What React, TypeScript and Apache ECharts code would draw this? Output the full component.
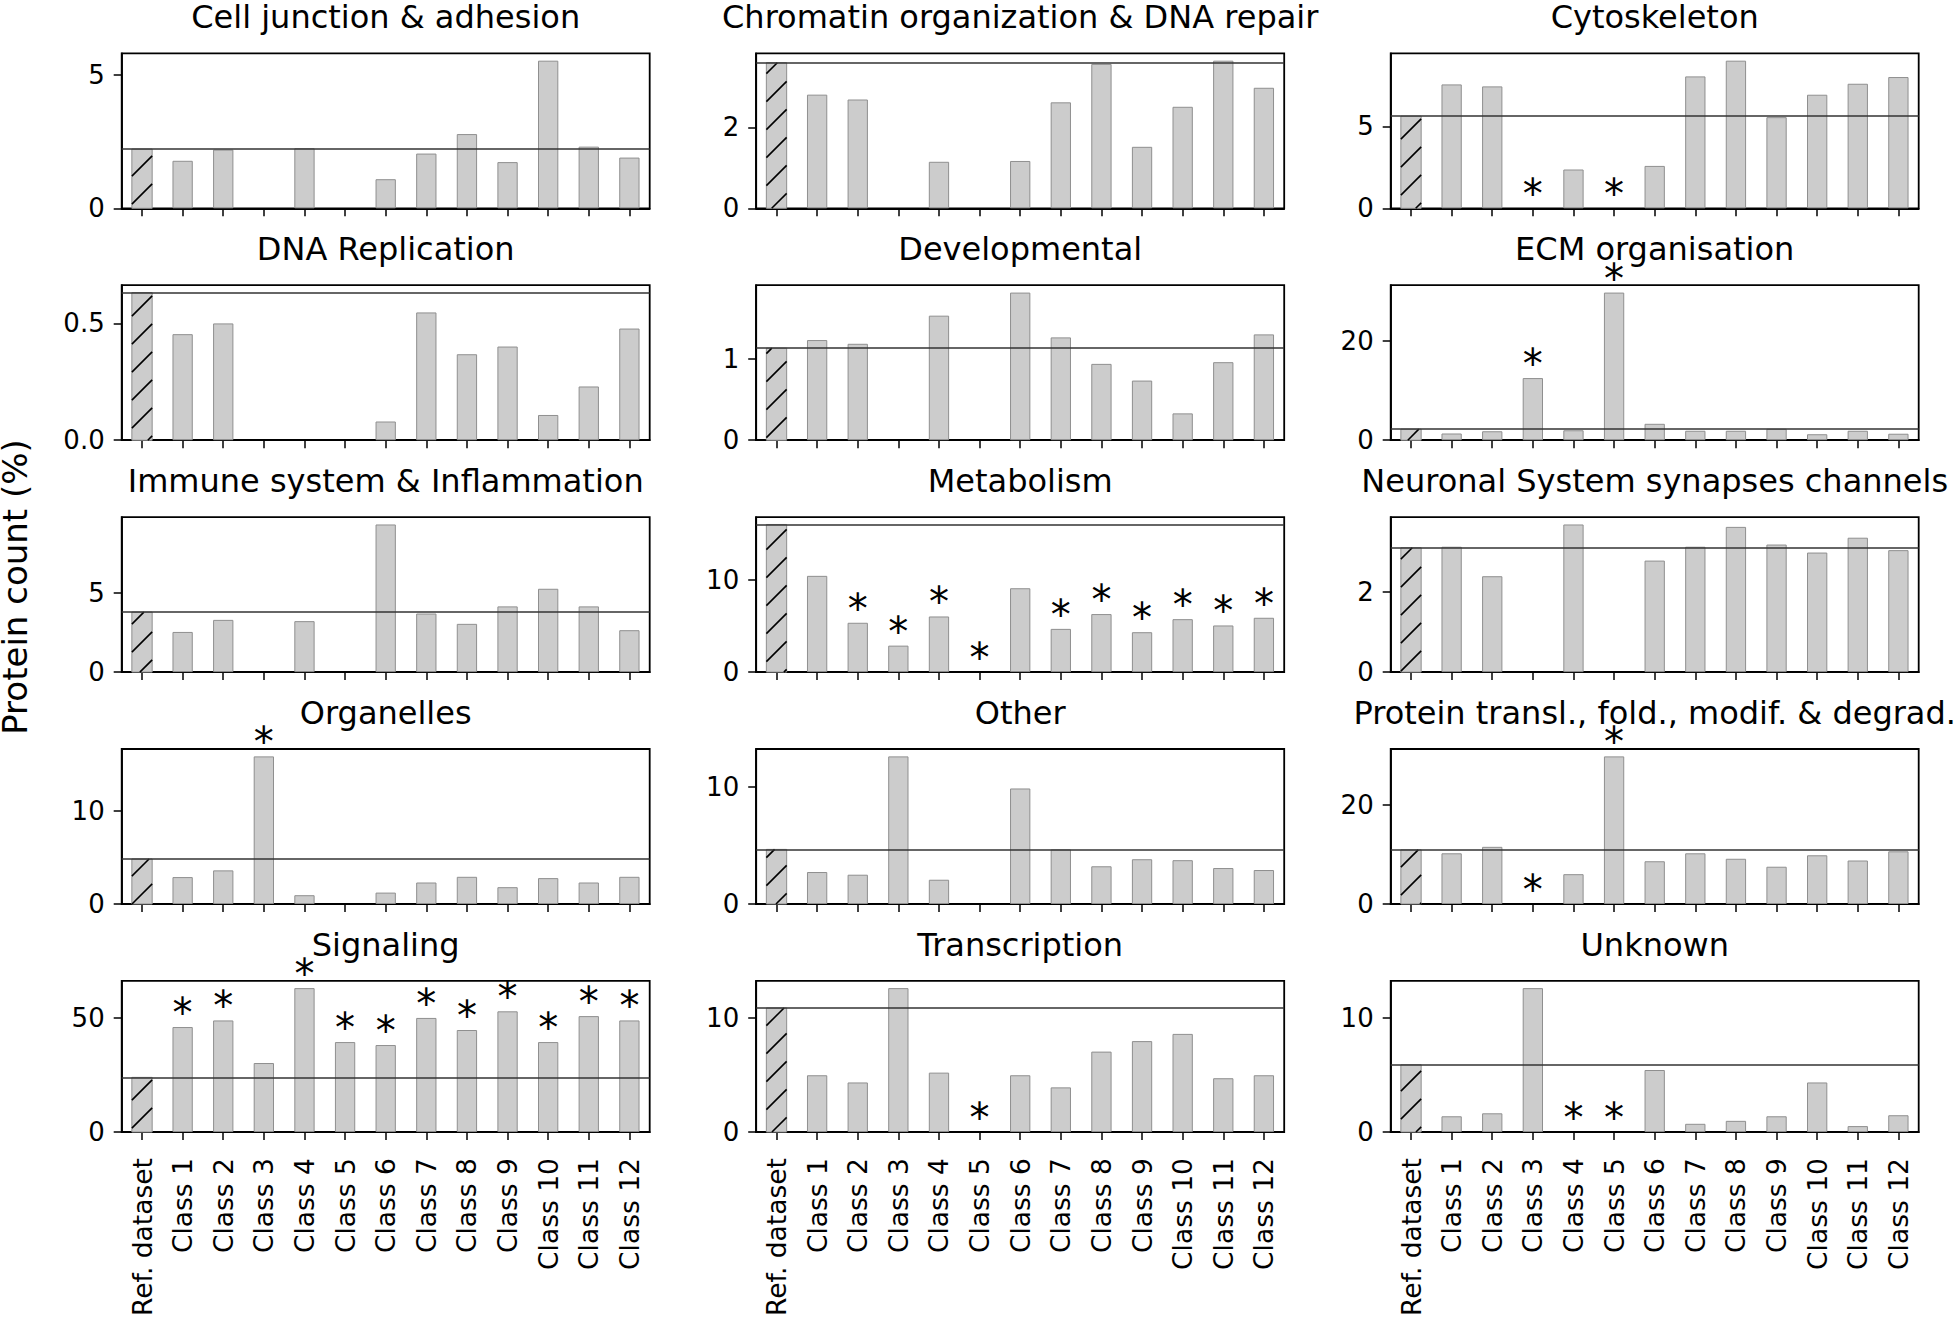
import React, { useEffect, useRef } from "react";
import * as echarts from "echarts";

const categories = ["Ref. dataset", "Class 1", "Class 2", "Class 3", "Class 4", "Class 5", "Class 6", "Class 7", "Class 8", "Class 9", "Class 10", "Class 11", "Class 12"];

const panelTitles = [
  "Cell junction & adhesion",
  "Chromatin organization & DNA repair",
  "Cytoskeleton",
  "DNA Replication",
  "Developmental",
  "ECM organisation",
  "Immune system & Inflammation",
  "Metabolism",
  "Neuronal System synapses channels",
  "Organelles",
  "Other",
  "Protein transl., fold., modif. & degrad.",
  "Signaling",
  "Transcription",
  "Unknown",
];

// Reference dataset value per panel (hatched bar + horizontal line)
const refValues = [2.22, 3.6, 5.63, 0.632, 1.136, 2.22, 3.78, 15.95, 3.1, 4.82, 4.66, 10.9, 24.0, 10.86, 5.89];

// Class 1..12 values per panel
const cellJunction = [1.78, 2.2, 0, 2.25, 0, 1.09, 2.05, 2.78, 1.73, 5.53, 2.31, 1.9];
const chromatin = [2.81, 2.69, 0, 1.15, 0, 1.17, 2.62, 3.57, 1.52, 2.51, 3.65, 2.98];
const cytoskeleton = [7.57, 7.45, 0, 2.37, 0, 2.59, 8.06, 9.02, 5.57, 6.94, 7.61, 8.02];
const dnaReplication = [0.454, 0.5, 0, 0, 0, 0.08, 0.547, 0.368, 0.401, 0.108, 0.23, 0.478];
const developmental = [1.236, 1.19, 0, 1.537, 0, 1.822, 1.269, 0.942, 0.736, 0.331, 0.963, 1.306];
const ecm = [1.35, 1.8, 12.5, 2.0, 29.7, 3.3, 1.9, 1.9, 2.3, 1.2, 1.9, 1.3];
const immune = [2.53, 3.29, 0, 3.21, 0, 9.3, 3.69, 3.04, 4.14, 5.25, 4.14, 2.64];
const metabolism = [10.4, 5.33, 2.86, 6.01, 0, 9.06, 4.67, 6.27, 4.31, 5.72, 5.04, 5.87];
const neuronal = [3.125, 2.39, 0, 3.68, 0, 2.78, 3.125, 3.62, 3.18, 2.98, 3.35, 3.04];
const organelles = [2.88, 3.6, 15.8, 0.94, 0, 1.22, 2.3, 2.91, 1.8, 2.77, 2.3, 2.91];
const other = [2.73, 2.5, 12.6, 2.07, 0, 9.86, 4.66, 3.22, 3.82, 3.74, 3.07, 2.9];
const proteinTransl = [10.2, 11.5, 0, 6.0, 29.7, 8.6, 10.2, 9.1, 7.5, 9.8, 8.75, 10.6];
const signaling = [46.1, 49.0, 30.3, 63.2, 39.5, 38.2, 50.1, 44.8, 53.0, 39.5, 50.9, 49.0];
const transcription = [4.97, 4.34, 12.6, 5.2, 0, 4.97, 3.91, 7.04, 7.96, 8.59, 4.71, 4.97];
const unknown = [1.38, 1.64, 12.6, 0, 0, 5.43, 0.72, 0.98, 1.38, 4.34, 0.52, 1.47];

const classValues = [
  cellJunction, chromatin, cytoskeleton,
  dnaReplication, developmental, ecm,
  immune, metabolism, neuronal,
  organelles, other, proteinTransl,
  signaling, transcription, unknown,
];

// Class numbers marked with an asterisk
const significant: number[][] = [
  [], [], [3, 5],
  [], [], [3, 5],
  [], [2, 3, 4, 5, 7, 8, 9, 10, 11, 12], [],
  [3], [], [3, 5],
  [1, 2, 4, 5, 6, 7, 8, 9, 10, 11, 12], [5], [4, 5],
];

// Y tick labels per panel
const yTicks: number[][] = [
  [0, 5], [0, 2], [0, 5],
  [0, 0.5], [0, 1], [0, 20],
  [0, 5], [0, 10], [0, 2],
  [0, 10], [0, 10], [0, 20],
  [0, 50], [0, 10], [0, 10],
];

const FONT = "DejaVu Sans";
const colLeft = [121.7, 756.2, 1390.7];
const gridW = 528;
const rowTop0 = 53.3;
const rowStep = 231.9;
const gridH = 155;

export default function App() {
  const ref = useRef<HTMLDivElement>(null);
  useEffect(() => {
    if (!ref.current) return;
    const chart = echarts.init(ref.current, undefined, { renderer: "svg" });
    const grids: any[] = [];
    const xAxes: any[] = [];
    const yAxes: any[] = [];
    const series: any[] = [];
    const graphics: any[] = [];

    panelTitles.forEach((title, i) => {
      const col = i % 3;
      const row = Math.floor(i / 3);
      const left = colLeft[col];
      const top = rowTop0 + rowStep * row;
      grids.push({
        left, top, width: gridW, height: gridH,
        show: true, borderColor: "#000", borderWidth: 1.8, backgroundColor: "transparent",
      });
      xAxes.push({
        type: "category", gridIndex: i, data: categories,
        axisLine: { show: true, lineStyle: { color: "#000", width: 1.8 } },
        axisTick: { show: true, alignWithLabel: true, length: 8, lineStyle: { color: "#000", width: 1.5 } },
        axisLabel: {
          show: row === 4, rotate: 90, interval: 0, margin: 26,
          fontSize: 26.5, fontFamily: FONT, color: "#000",
        },
        splitLine: { show: false },
      });
      const vals = classValues[i];
      const ymax = Math.max(refValues[i], ...vals) * 1.05;
      const isDec = i === 3;
      yAxes.push({
        type: "value", gridIndex: i, min: 0, max: ymax,
        axisLine: { show: true, lineStyle: { color: "#000", width: 1.8 } },
        axisTick: { show: true, length: 8, lineStyle: { color: "#000", width: 1.5 }, customValues: yTicks[i] },
        axisLabel: {
          show: true, margin: 17, fontSize: 26, fontFamily: FONT, color: "#000",
          customValues: yTicks[i],
          formatter: (v: number) => (isDec ? v.toFixed(1) : String(v)),
        },
        splitLine: { show: false },
      });
      const sig = significant[i];
      const barData: any[] = [null];
      vals.forEach((v, k) => {
        const item: any = { value: v };
        if (v === 0) item.itemStyle = { borderWidth: 0, color: "transparent" };
        if (sig.includes(k + 1)) item.label = { show: true };
        barData.push(item);
      });
      series.push({
        type: "bar", xAxisIndex: i, yAxisIndex: i, data: barData, barWidth: "50%",
        itemStyle: { color: "#cccccc", borderColor: "#8f8f8f", borderWidth: 1 },
        label: {
          show: false, position: "top", formatter: "*", distance: 0, offset: [0, 6],
          fontSize: 40, fontFamily: FONT, color: "#000",
        },
        markLine: {
          silent: true, symbol: "none", animation: false,
          label: { show: false },
          lineStyle: { color: "#333333", width: 1.5, type: "solid" },
          data: [{ yAxis: refValues[i] }],
          z: 5,
        },
      });
      series.push({
        type: "custom", xAxisIndex: i, yAxisIndex: i, data: [[0, refValues[i]]],
        renderItem: (params: any, api: any) => {
          const v = api.value(1);
          const base = api.coord([0, 0]);
          const tp = api.coord([0, v]);
          const bw = api.size([1, 0])[0] * 0.5;
          const x0 = base[0] - bw / 2;
          const x1 = base[0] + bw / 2;
          const yT = tp[1];
          const yB = base[1];
          const children: any[] = [
            { type: "rect", shape: { x: x0, y: yT, width: bw, height: yB - yT }, style: { fill: "#cccccc", stroke: "#8f8f8f", lineWidth: 1 } },
          ];
          const S = 28;
          for (let c = Math.floor((x0 + yT) / S) * S; c <= x1 + yB; c += S) {
            const xs = Math.max(x0, c - yB);
            const xe = Math.min(x1, c - yT);
            if (xe > xs + 0.5) {
              children.push({ type: "line", shape: { x1: xs, y1: c - xs, x2: xe, y2: c - xe }, style: { stroke: "#000", lineWidth: 1.6 } });
            }
          }
          return { type: "group", children };
        },
      });
      graphics.push({
        type: "text", x: left + gridW / 2, y: 17 + rowStep * row,
        style: { text: title, fontSize: 32, fontFamily: FONT, fill: "#000", align: "center", verticalAlign: "middle" },
      });
    });

    graphics.push({
      type: "text", x: 15, y: 587, rotation: Math.PI / 2,
      style: { text: "Protein count (%)", fontSize: 34, fontFamily: FONT, fill: "#000", align: "center", verticalAlign: "middle" },
    });

    chart.setOption({
      animation: false,
      backgroundColor: "#fff",
      grid: grids,
      xAxis: xAxes,
      yAxis: yAxes,
      series,
      graphic: graphics,
    });
    return () => chart.dispose();
  }, []);
  return <div ref={ref} style={{ width: 1960, height: 1319, position: "absolute", left: 0, top: 0 }} />;
}
